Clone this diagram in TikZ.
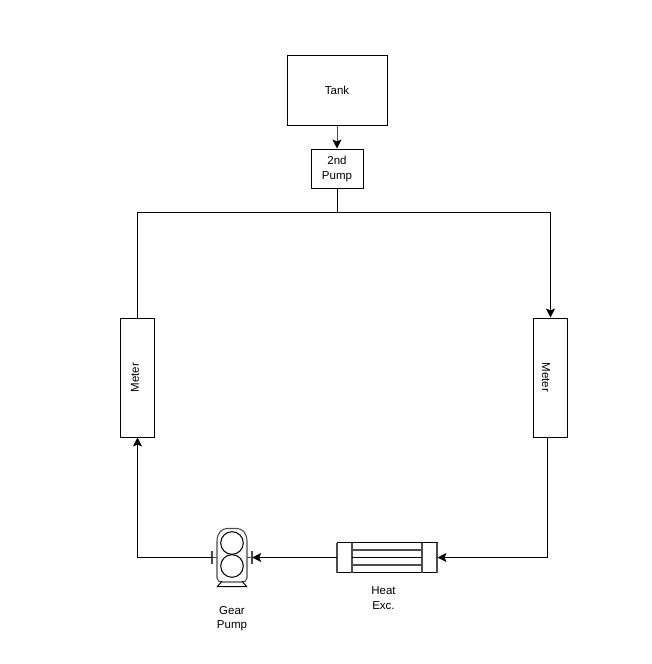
\documentclass[tikz,border=0pt]{standalone}
\usepackage{fontspec}
\setmainfont{Liberation Sans}
\usetikzlibrary{arrows.meta,calc}
\tikzset{
  box/.style={draw=black,line width=1pt,minimum width=#1,inner sep=0pt,align=center,font=\fontsize{11.5}{15}\selectfont},
  label/.style={inner sep=0pt,align=center,font=\fontsize{11.5}{14.5}\selectfont},
  flow/.style={draw=black,line width=1pt,-{Stealth[length=9pt,width=9pt,inset=2pt,color=black]}},
  pipe/.style={draw=black,line width=1pt},
  part/.style={draw=black!70,line width=1.1pt}
}
\begin{document}
\begin{tikzpicture}[x=1pt,y=-1pt]
\useasboundingbox (0,0) rectangle (651,664);
\node[box=100pt,minimum height=70pt] (tank) at (337,90.5) {\raisebox{-1.5pt}{Tank}};
\node[box=52pt,minimum height=39pt] (pump2) at (337,168.5) {\raisebox{-1pt}{\begin{tabular}{@{}c@{}}2nd\\[0pt]Pump\end{tabular}}};
\node[box=34pt,minimum height=119pt] (meterL) at (137.5,377.5) {};
\node[label,rotate=90] (meterLt) at (135,377.5) {Meter};
\node[box=34pt,minimum height=119pt] (meterR) at (550.5,377.5) {};
\node[label,rotate=270] (meterRt) at (546,377.5) {Meter};
\node[box=100pt,minimum height=30pt] (hx) at (387,557.5) {};
\node[label] (hxt) at (383.5,598) {Heat\\Exc.};
\node[minimum width=40pt,minimum height=59pt,inner sep=0pt] (gear) at (232,557.5) {};
\node[label] (geart) at (232,618.5) {Gear\\Pump};
% heat exchanger details
\draw[part] (352,542.5) -- (352,572.5) (422,542.5) -- (422,572.5);
\draw[part] (352,550) -- (422,550) (352,565) -- (422,565);
\draw[pipe] (352,557.5) -- (422,557.5);
\draw[part] (337,542.5) -- (337,572.5) (437,542.5) -- (437,572.5);
% gear pump details
\draw[part] (217,578) -- (217,541) .. controls (217,533) and (222,528.5) .. (227,528.5) -- (237,528.5) .. controls (242,528.5) and (247,533) .. (247,541) -- (247,578) .. controls (247,581) and (244,582) .. (242,582) -- (222,582) .. controls (220,582) and (217,581) .. (217,578);
\draw[pipe] (232,543) circle (11.3);
\draw[pipe] (232,566) circle (11.3);
\draw[part] (212,551) -- (212,564) (252,551) -- (252,564);
\draw[part] (212,557.5) -- (217,557.5) (247,557.5) -- (252,557.5);
\draw[pipe] (222,581) -- (217.5,586.5) -- (246.5,586.5) -- (242,581);
% connectors
\draw[flow,draw=black!70] (tank.south) -- (pump2.north);
\draw[pipe] (pump2.south) -- ++(0,24) coordinate (split);
\draw[pipe] (split) -| (meterL.north);
\draw[flow] (split) -| (meterR.north);
\draw[pipe] ($(meterR.south)+(-3,0)$) -- ++(0,120) coordinate (turnR);
\draw[flow] (turnR) -- (hx.east);
\draw[flow] (hx.west) -- (gear.east);
\draw[flow] (gear.west) -| (meterL.south);
\end{tikzpicture}
\end{document}
